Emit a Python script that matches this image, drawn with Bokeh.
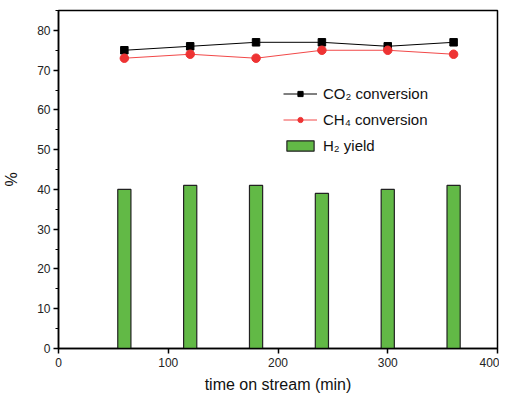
from bokeh.plotting import figure
from bokeh.models import Legend, LegendItem, FixedTicker, Range1d
from bokeh.embed import file_html
from bokeh.resources import INLINE

time_min = [60, 120, 180, 240, 300, 360]
co2_conv = [75, 76, 77, 77, 76, 77]
ch4_conv = [73, 74, 73, 75, 75, 74]
h2_yield = [40, 41, 41, 39, 40, 41]

FONT = "Liberation Sans"

p = figure(width=499, height=398, output_backend="svg", toolbar_location=None,
           x_range=Range1d(0, 400), y_range=Range1d(0, 85),
           min_border_left=49, min_border_right=2, min_border_top=10, min_border_bottom=50)
p.grid.visible = False
p.outline_line_color = "black"
p.outline_line_width = 1.5

bars = p.vbar(x=time_min, top=h2_yield, width=12, bottom=0,
              fill_color="#62B946", line_color="#222222", line_width=1.2)
l1 = p.line(time_min, co2_conv, line_color="black", line_width=1)
m1 = p.scatter(time_min, co2_conv, marker="square", size=7.5, fill_color="black", line_color="black")
l2 = p.line(time_min, ch4_conv, line_color="#F24848", line_width=1)
m2 = p.scatter(time_min, ch4_conv, marker="circle", size=8.5, fill_color="#EE3333", line_color="#EE3333")

for ax in (p.xaxis[0], p.yaxis[0]):
    ax.axis_line_width = 1.5
    ax.axis_line_color = "black"
    ax.major_tick_in = 0
    ax.major_tick_out = 5
    ax.major_tick_line_width = 1.5
    ax.minor_tick_in = 0
    ax.minor_tick_out = 3
    ax.minor_tick_line_width = 1.2
    ax.major_label_text_font = FONT
    ax.major_label_text_font_size = "12px"
    ax.major_label_text_color = "#222222"
    ax.axis_label_text_font = FONT
    ax.axis_label_text_font_size = "16px"
    ax.axis_label_text_font_style = "normal"
    ax.axis_label_text_color = "#111111"

p.xaxis.ticker = FixedTicker(ticks=[0, 100, 200, 300, 400])
p.xaxis.minor_tick_line_color = None
p.yaxis.ticker = FixedTicker(ticks=list(range(0, 81, 10)), minor_ticks=list(range(5, 86, 10)))
p.xaxis.axis_label = "time on stream (min)"
p.yaxis.axis_label = "%"
p.xaxis.major_label_standoff = 4
p.xaxis.axis_label_standoff = 6
p.yaxis.major_label_standoff = 3
p.yaxis.axis_label_standoff = 14

legend = Legend(items=[
    LegendItem(label="CO\u2082 conversion", renderers=[l1, m1]),
    LegendItem(label="CH\u2084 conversion", renderers=[l2, m2]),
    LegendItem(label="H\u2082 yield", renderers=[bars]),
], location=(225, 194))
legend.border_line_color = None
legend.background_fill_alpha = 0
legend.padding = 0
legend.margin = 0
legend.spacing = 9
legend.glyph_width = 34
legend.glyph_height = 13
legend.label_text_font = FONT
legend.label_text_font_size = "15px"
legend.label_text_color = "#111111"
legend.label_standoff = 6
p.add_layout(legend, "center")

open("out.html", "w").write(file_html(p, INLINE))
